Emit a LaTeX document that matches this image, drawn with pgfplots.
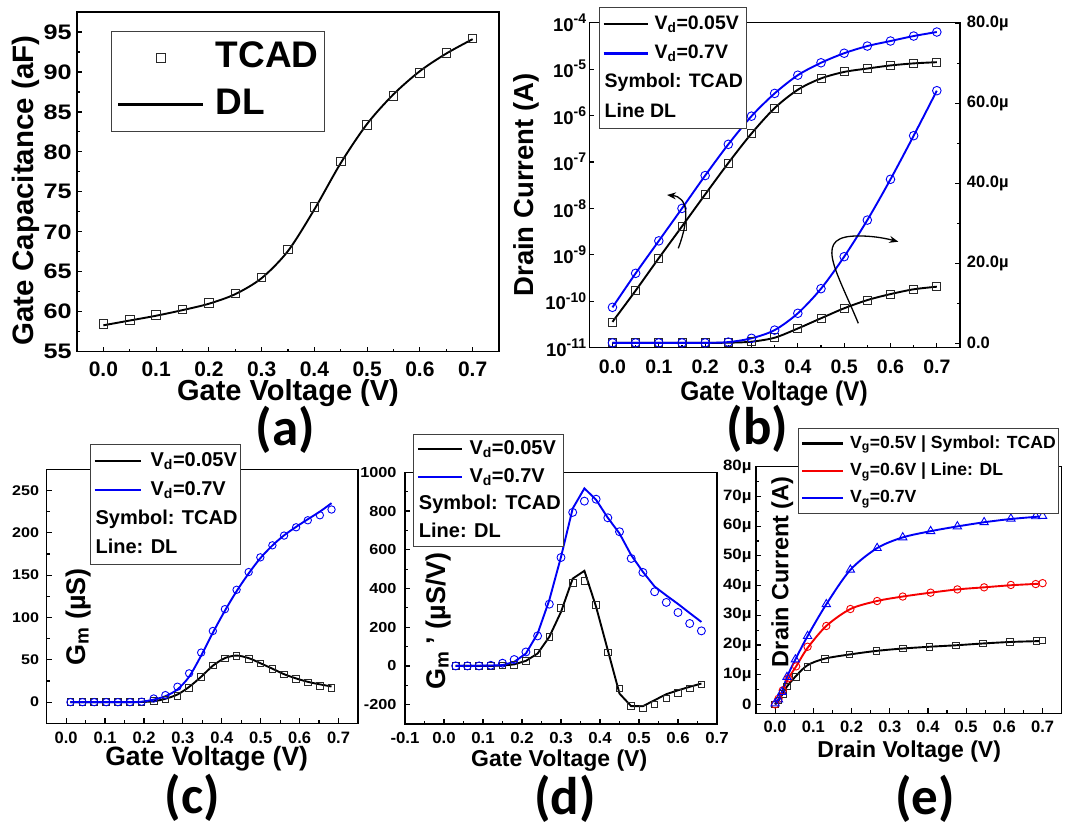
\documentclass[border=0pt]{standalone}
\usepackage{fontspec}
\setmainfont{Liberation Sans}
\newfontfamily\carlito{Carlito}
\usepackage{graphicx}
\usepackage{pgfplots}
\pgfplotsset{compat=1.18}
\usetikzlibrary{arrows.meta}
\definecolor{pblue}{RGB}{0,0,245}
\definecolor{pred}{RGB}{245,0,0}
\definecolor{mgray}{RGB}{40,40,40}
\newcommand{\fs}[1]{\fontsize{#1}{#1}\selectfont\bfseries}
\newcommand{\tp}[1]{10\raisebox{0.42em}{\fontsize{14}{14}\selectfont\bfseries #1}}

\pgfplotsset{
  base/.style={
    scale only axis, anchor=south west,
    axis line style={line width=1.4pt},
    every tick/.style={line width=1.2pt, black},
    major tick length=5pt, minor tick length=3pt,
    tick align=inside, tick pos=left,
    clip=false,
    legend cell align=left,
    legend image post style={line width=2.2pt},
  },
  leglen/.style={legend image code/.code={\draw[mark repeat=2,mark phase=2,##1] plot coordinates {(0pt,0pt) (#1/2,0pt) (#1,0pt)};}},
  legbox/.style n args={8}{legend style={at={(#1,#2)}, anchor=north west, draw=black!75, line width=0.9pt, fill=white, inner xsep=3pt, inner ysep=#4, row sep=#3, font=\fs{#5}, /tikz/every odd column/.append style={column sep=#6}, nodes={inner sep=0pt, text height=#7, text depth=#8}}},
  dl/.style={line width=1.9pt, smooth, tension=0.5},
  dlp/.style={line width=1.9pt},
  sq/.style={only marks, mark=square, mark size=#1, mark options={draw=mgray, line width=0.9pt, fill=none, solid}},
  ci/.style={only marks, mark=o, mark size=#1, mark options={draw=pblue, line width=0.9pt, solid}},
}

\begin{document}
\begin{tikzpicture}[x=1pt,y=1pt]

% ---------------- (a) ----------------
\begin{axis}[base, at={(77pt,475.3pt)}, width=422pt, height=339.7pt,
  xmin=-0.05, xmax=0.75, ymin=55, ymax=97.5,
  xtick={0,0.1,0.2,0.3,0.4,0.5,0.6,0.7}, xticklabels={0.0,0.1,0.2,0.3,0.4,0.5,0.6,0.7},
  minor x tick num=1,
  ytick={55,60,65,70,75,80,85,90,95}, yticklabels={55,60,65,70,75,80,85,90,95},
  minor y tick num=1,
  xticklabel style={font=\fs{21}, inner sep=0pt, anchor=north, yshift=-9.5pt},
  yticklabel style={font=\fs{21}, inner sep=0pt, anchor=east, xshift=-5pt, xscale=1.2},
  leglen=85pt, legbox={0.0806}{0.945}{11pt}{8.6pt}{37}{11.6pt}{27.75pt}{8.1pt}, legend style={inner xsep=5.7pt},
]
\addplot[sq=4.3pt] coordinates {(0,58.5)(0.05,59.0)(0.1,59.6)(0.15,60.3)(0.2,61.1)(0.25,62.3)(0.3,64.3)(0.35,67.8)(0.4,73.1)(0.45,78.8)(0.5,83.4)(0.55,87.0)(0.6,89.9)(0.65,92.4)(0.7,94.2)};
\addlegendentry{TCAD}
\addplot[dl, black] coordinates {(0,58.3)(0.05,58.9)(0.1,59.5)(0.15,60.2)(0.2,61.0)(0.25,62.2)(0.3,64.2)(0.35,67.6)(0.4,72.8)(0.45,78.6)(0.5,83.5)(0.55,87.2)(0.6,90.1)(0.65,92.3)(0.7,94.1)};
\addlegendentry{DL}
\end{axis}

% ---------------- (b) left (log) ----------------
\begin{axis}[base, at={(589.3pt,479.3pt)}, width=370.7pt, height=325pt,
  xmin=-0.05, xmax=0.75, ymode=log, ymin=1e-11, ymax=1e-4,
  xtick={0,0.1,0.2,0.3,0.4,0.5,0.6,0.7}, xticklabels={0.0,0.1,0.2,0.3,0.4,0.5,0.6,0.7},
  minor x tick num=1,
  ytick={1e-11,1e-10,1e-9,1e-8,1e-7,1e-6,1e-5,1e-4},
  yticklabels={\tp{-11},\tp{-10},\tp{-9},\tp{-8},\tp{-7},\tp{-6},\tp{-5},\tp{-4}},
  yminorticks=false,
  xticklabel style={font=\fs{19.5}, inner sep=0pt, anchor=north, yshift=-11.5pt},
  yticklabel style={font=\fs{18.5}, inner sep=0pt, anchor=east, xshift=-3pt},
]
\addplot[dl, black] coordinates {(0,3.6e-11)(0.05,1.7e-10)(0.1,8.5e-10)(0.15,4.1e-9)(0.2,2.0e-8)(0.25,9.5e-8)(0.3,4.1e-7)(0.35,1.45e-6)(0.4,3.6e-6)(0.45,6.3e-6)(0.5,8.7e-6)(0.55,1.03e-5)(0.6,1.2e-5)(0.65,1.33e-5)(0.7,1.41e-5)};
\addplot[dl, pblue] coordinates {(0,7.4e-11)(0.05,4.0e-10)(0.1,2.0e-9)(0.15,1.0e-8)(0.2,5.1e-8)(0.25,2.4e-7)(0.3,9.7e-7)(0.35,3.0e-6)(0.4,7.4e-6)(0.45,1.37e-5)(0.5,2.2e-5)(0.55,3.14e-5)(0.6,4.03e-5)(0.65,5.16e-5)(0.7,6.3e-5)};
\addplot[sq=4pt] coordinates {(0,3.5e-11)(0.05,1.7e-10)(0.1,8.5e-10)(0.15,4.1e-9)(0.2,2.0e-8)(0.25,9.5e-8)(0.3,4.1e-7)(0.35,1.45e-6)(0.4,3.6e-6)(0.45,6.3e-6)(0.5,8.7e-6)(0.55,1.03e-5)(0.6,1.2e-5)(0.65,1.33e-5)(0.7,1.41e-5)};
\addplot[ci=4.3pt] coordinates {(0,7.4e-11)(0.05,4.0e-10)(0.1,2.0e-9)(0.15,1.0e-8)(0.2,5.1e-8)(0.25,2.4e-7)(0.3,9.7e-7)(0.35,3.0e-6)(0.4,7.4e-6)(0.45,1.37e-5)(0.5,2.2e-5)(0.55,3.14e-5)(0.6,4.03e-5)(0.65,5.16e-5)(0.7,6.3e-5)};
\end{axis}

% ---------------- (b) right (linear) ----------------
\begin{axis}[base, at={(589.3pt,479.3pt)}, width=370.7pt, height=325pt,
  xmin=-0.05, xmax=0.75, ymin=-1.1, ymax=80.15,
  axis x line=none, axis y line*=right, ytick pos=right, yticklabel pos=right,
  ytick={0,20,40,60,80}, yticklabels={0.0,20.0µ,40.0µ,60.0µ,80.0µ}, minor y tick num=1,
  yticklabel style={font=\fs{16.5}, inner sep=0pt, anchor=west, xshift=6.7pt},
  leglen=44pt, legbox={0.0262}{1.0474}{10.4pt}{7pt}{19.5}{6pt}{14.6pt}{4.3pt},
]
\addplot[dl, black] coordinates {(0,0.1)(0.05,0.1)(0.1,0.1)(0.15,0.1)(0.2,0.1)(0.25,0.15)(0.3,0.4)(0.35,1.4)(0.4,3.7)(0.45,6.25)(0.5,8.75)(0.55,10.8)(0.6,12.3)(0.65,13.5)(0.7,14.15)};
\addlegendentry{V\textsubscript{d}=0.05V}
\addplot[dl, pblue] coordinates {(0,0.1)(0.05,0.1)(0.1,0.1)(0.15,0.1)(0.2,0.1)(0.25,0.3)(0.3,1.25)(0.35,3.3)(0.4,7.5)(0.45,13.65)(0.5,21.65)(0.55,30.8)(0.6,41)(0.65,51.9)(0.7,63.15)};
\addlegendentry{V\textsubscript{d}=0.7V}
\addplot[sq=4pt, forget plot] coordinates {(0,0.1)(0.05,0.1)(0.1,0.1)(0.15,0.1)(0.2,0.1)(0.25,0.15)(0.3,0.4)(0.35,1.4)(0.4,3.7)(0.45,6.25)(0.5,8.75)(0.55,10.8)(0.6,12.3)(0.65,13.5)(0.7,14.15)};
\addplot[ci=4.3pt, forget plot] coordinates {(0,0.1)(0.05,0.1)(0.1,0.1)(0.15,0.1)(0.2,0.1)(0.25,0.3)(0.3,1.25)(0.35,3.3)(0.4,7.5)(0.45,13.65)(0.5,21.65)(0.55,30.8)(0.6,41)(0.65,51.9)(0.7,63.15)};
\addlegendimage{empty legend}\addlegendentry{\hspace*{-50pt}Symbol: TCAD}
\addlegendimage{empty legend}\addlegendentry{\hspace*{-50pt}Line DL}
\end{axis}

% ---------------- (c) ----------------
\begin{axis}[base, at={(46.7pt,103.7pt)}, width=311.3pt, height=254pt,
  xmin=-0.05, xmax=0.75, ymin=-25, ymax=275,
  xtick={0,0.1,0.2,0.3,0.4,0.5,0.6,0.7}, xticklabels={0.0,0.1,0.2,0.3,0.4,0.5,0.6,0.7},
  minor x tick num=1,
  ytick={0,50,100,150,200,250}, yticklabels={0,50,100,150,200,250}, minor y tick num=1,
  xticklabel style={font=\fs{16.5}, inner sep=0pt, anchor=north, yshift=-8.4pt},
  yticklabel style={font=\fs{14}, inner sep=0pt, anchor=east, xshift=-7.4pt, xscale=1.15},
  leglen=46.7pt, legbox={0.139}{1.0996}{9.5pt}{7pt}{20}{8.3pt}{15pt}{4.4pt},
]
\addplot[dl, black] coordinates {(0.011,0)(0.042,0)(0.072,0)(0.103,0)(0.133,0)(0.164,0)(0.194,0.2)(0.225,1)(0.255,4)(0.286,9)(0.316,18)(0.347,30)(0.377,43)(0.408,52)(0.438,55)(0.469,52)(0.499,46)(0.530,39.5)(0.560,33)(0.591,28)(0.621,24)(0.652,21)(0.682,18.5)};
\addlegendentry{V\textsubscript{d}=0.05V}
\addplot[dl, pblue] coordinates {(0.011,0)(0.042,0)(0.072,0)(0.103,0)(0.133,0)(0.164,0)(0.194,0.5)(0.225,3)(0.255,7)(0.286,15)(0.316,30)(0.347,55)(0.377,82)(0.408,108)(0.438,131)(0.469,152)(0.499,170)(0.530,185)(0.560,197)(0.591,207)(0.621,216)(0.652,225)(0.682,235)};
\addlegendentry{V\textsubscript{d}=0.7V}
\addplot[sq=3.3pt, forget plot] coordinates {(0.011,0)(0.042,0)(0.072,0)(0.103,0)(0.133,0)(0.164,0)(0.194,0.3)(0.225,1.5)(0.255,3.2)(0.286,7.5)(0.316,17)(0.347,30)(0.377,43.4)(0.408,51.7)(0.438,54.5)(0.469,51)(0.499,45.8)(0.530,39.1)(0.560,32.8)(0.591,27.2)(0.621,23.3)(0.652,19.4)(0.682,17)};
\addplot[ci=3.7pt, forget plot] coordinates {(0.011,0)(0.042,0)(0.072,0)(0.103,0)(0.133,0)(0.164,0)(0.194,0.5)(0.225,4.3)(0.255,8.3)(0.286,18.2)(0.316,34)(0.347,58.5)(0.377,84)(0.408,109.8)(0.438,132.7)(0.469,153.6)(0.499,171)(0.530,185.2)(0.560,196.7)(0.591,206.5)(0.621,214.8)(0.652,220.7)(0.682,227.5)};
\addlegendimage{empty legend}\addlegendentry{\hspace*{-55pt}Symbol: TCAD}
\addlegendimage{empty legend}\addlegendentry{\hspace*{-55pt}Line: DL}
\end{axis}

% ---------------- (d) ----------------
\begin{axis}[base, at={(405pt,103pt)}, width=312pt, height=251.7pt,
  xmin=-0.1, xmax=0.7, ymin=-300, ymax=1000,
  xtick={-0.1,0,0.1,0.2,0.3,0.4,0.5,0.6,0.7}, xticklabels={-0.1,0.0,0.1,0.2,0.3,0.4,0.5,0.6,0.7},
  minor x tick num=1,
  ytick={-200,0,200,400,600,800,1000}, yticklabels={-200,0,200,400,600,800,1000}, minor y tick num=1,
  xticklabel style={font=\fs{16}, inner sep=0pt, anchor=north, yshift=-7.7pt, xscale=1.05},
  yticklabel style={font=\fs{14.5}, inner sep=0pt, anchor=east, xshift=-8.3pt, xscale=1.12},
  leglen=44pt, legbox={0.0266}{1.152}{8.2pt}{5pt}{20}{6.6pt}{15pt}{4.4pt},
]
\addplot[dlp, black] coordinates {(0.03,0)(0.06,0)(0.09,0)(0.12,0)(0.15,2)(0.18,8)(0.21,26)(0.24,64)(0.27,150)(0.30,279)(0.33,451)(0.36,491)(0.39,305)(0.42,81)(0.45,-143)(0.48,-208)(0.51,-208)(0.54,-177)(0.57,-146)(0.60,-126)(0.63,-108)(0.66,-91)};
\addlegendentry{V\textsubscript{d}=0.05V}
\addplot[dlp, pblue] coordinates {(0.03,0)(0.06,0)(0.09,1)(0.12,2)(0.15,4)(0.18,21)(0.21,64)(0.24,167)(0.27,340)(0.30,563)(0.33,813)(0.36,917)(0.39,858)(0.42,765)(0.45,684)(0.48,572)(0.51,486)(0.54,410)(0.57,364)(0.60,320)(0.63,273)(0.66,227)};
\addlegendentry{V\textsubscript{d}=0.7V}
\addplot[sq=3.3pt, forget plot] coordinates {(0.03,0)(0.06,0)(0.09,0)(0.12,0)(0.15,2)(0.18,5)(0.21,26)(0.24,67)(0.27,150)(0.30,300)(0.33,429)(0.36,439)(0.39,314)(0.42,69)(0.45,-117)(0.48,-207)(0.51,-220)(0.54,-200)(0.57,-169)(0.60,-139)(0.63,-117)(0.66,-95)};
\addplot[ci=4pt, forget plot] coordinates {(0.03,0)(0.06,0)(0.09,0)(0.12,3)(0.15,14)(0.18,33)(0.21,72)(0.24,155)(0.27,319)(0.30,560)(0.33,793)(0.36,851)(0.39,861)(0.42,765)(0.45,693)(0.48,555)(0.51,483)(0.54,383)(0.57,328)(0.60,276)(0.63,219)(0.66,181)};
\addlegendimage{empty legend}\addlegendentry{\hspace*{-50.6pt}Symbol: TCAD}
\addlegendimage{empty legend}\addlegendentry{\hspace*{-50.6pt}Line: DL}
\end{axis}

% ---------------- (e) ----------------
\begin{axis}[base, at={(756pt,113.7pt)}, width=305.7pt, height=246.6pt,
  xmin=-0.05, xmax=0.75, ymin=-3, ymax=80,
  xtick={0,0.1,0.2,0.3,0.4,0.5,0.6,0.7}, xticklabels={0.0,0.1,0.2,0.3,0.4,0.5,0.6,0.7},
  minor x tick num=1,
  ytick={0,10,20,30,40,50,60,70,80}, yticklabels={0,10µ,20µ,30µ,40µ,50µ,60µ,70µ,80µ}, minor y tick num=1,
  xticklabel style={font=\fs{16.5}, inner sep=0pt, anchor=north, yshift=-7.4pt},
  yticklabel style={font=\fs{15}, inner sep=0pt, anchor=east, xshift=-4.3pt, xscale=1.12},
  leglen=40pt, legbox={0.1364}{1.157}{10.2pt}{6.5pt}{17.6}{6.7pt}{13.2pt}{3.9pt},
]
\addplot[dl, black] coordinates {(0,0)(0.009,1.3)(0.02,3.6)(0.031,6)(0.055,9.6)(0.085,13.2)(0.13,15.4)(0.195,16.8)(0.265,18)(0.334,18.8)(0.404,19.4)(0.474,19.9)(0.544,20.5)(0.614,21.0)(0.69,21.3)};
\addlegendentry{V\textsubscript{g}=0.5V | Symbol: TCAD}
\addplot[dl, pred] coordinates {(0,0)(0.009,1.9)(0.02,4.7)(0.035,8.8)(0.055,12.8)(0.085,19.0)(0.134,26.4)(0.197,32.1)(0.267,34.8)(0.334,36.3)(0.407,37.6)(0.477,38.7)(0.547,39.4)(0.617,40.1)(0.69,40.6)};
\addlegendentry{V\textsubscript{g}=0.6V | Line: DL}
\addplot[dl, pblue] coordinates {(0,0)(0.009,1.6)(0.018,4.2)(0.031,9.2)(0.053,15.1)(0.085,23)(0.134,33.7)(0.197,45.3)(0.267,52.6)(0.334,56.2)(0.407,58.3)(0.477,59.9)(0.547,61.3)(0.617,62.4)(0.69,63.2)};
\addlegendentry{V\textsubscript{g}=0.7V}
\addplot[sq=3.3pt, forget plot] coordinates {(0,0)(0.009,1.3)(0.02,3.6)(0.031,6)(0.055,9.2)(0.085,12.6)(0.13,15.2)(0.195,16.8)(0.265,18)(0.334,18.8)(0.404,19.4)(0.474,19.9)(0.544,20.5)(0.614,21.1)(0.684,21.4)(0.7,21.5)};
\addplot[only marks, mark=o, mark size=3.7pt, mark options={draw=pred, line width=0.9pt}, forget plot] coordinates {(0,0)(0.009,1.9)(0.02,4.7)(0.035,8.8)(0.055,12.8)(0.085,19.4)(0.134,26.4)(0.197,32.1)(0.267,34.8)(0.334,36.3)(0.407,37.6)(0.477,38.7)(0.547,39.4)(0.617,40.2)(0.682,40.5)(0.7,40.8)};
\addplot[only marks, mark=triangle, mark size=4.8pt, mark options={draw=pblue, line width=0.9pt}, forget plot] coordinates {(0,0.3)(0.009,1.6)(0.018,4.2)(0.031,9.2)(0.053,15.1)(0.085,23)(0.134,33.7)(0.197,45.3)(0.267,52.6)(0.334,56.2)(0.407,58.3)(0.477,59.9)(0.547,61.3)(0.617,62.5)(0.682,63.3)(0.7,63.4)};
\end{axis}

% ---------------- axis labels ----------------
\node[anchor=base, font=\fs{29}] at (288,426) {Gate Voltage (V)};
\node[rotate=90, anchor=base, font=\fs{29.5}] at (33.3,636.5) {Gate Capacitance (aF)};
\node[anchor=base, font=\fs{24.5}] at (774,426) {\scalebox{1}[1.1]{Gate Voltage (V)}};
\node[rotate=90, anchor=base, font=\fs{27.5}] at (533.3,642) {Drain Current (A)};
\node[anchor=base, font=\fs{26.5}] at (206.7,61) {Gate Voltage (V)};
\node[rotate=90, anchor=base, font=\fs{27}] at (85,210.3) {G\textsubscript{m} (µS)};
\node[anchor=base, font=\fs{23}] at (559.2,60.3) {Gate Voltage (V)};
\node[rotate=90, anchor=base, font=\fs{27}] at (445,206) {G\textsubscript{m} ' (µS/V)};
\node[anchor=base, font=\fs{23}] at (909.2,69.7) {Drain Voltage (V)};
\node[rotate=90, anchor=base, font=\fs{23.5}] at (788.3,255.3) {Drain Current (A)};

% ---------------- panel letters ----------------
\node[font=\carlito\fontsize{53}{53}\selectfont\bfseries] at (285.5,397) {(a)};
\node[font=\carlito\fontsize{53}{53}\selectfont\bfseries] at (757.5,398) {(b)};
\node[font=\carlito\fontsize{53}{53}\selectfont\bfseries] at (192.5,29) {(c)};
\node[font=\carlito\fontsize{53}{53}\selectfont\bfseries] at (565,28) {(d)};
\node[font=\carlito\fontsize{53}{53}\selectfont\bfseries] at (925,28) {(e)};

% ---------------- arrows in (b) ----------------
\draw[line width=1.3pt, -{Stealth[length=9pt,width=7pt]}] (678.3,578.7) .. controls (690,610) and (688,630) .. (667,632);
\draw[line width=1.3pt, -{Stealth[length=9pt,width=7pt]}] (858.3,503.7) .. controls (835,560) and (812,592) .. (860,591) .. controls (875,591) and (888,588) .. (898.3,585.3);

\pgfresetboundingbox
\path[use as bounding box] (0,0) rectangle (1068,827);
\end{tikzpicture}
\end{document}
